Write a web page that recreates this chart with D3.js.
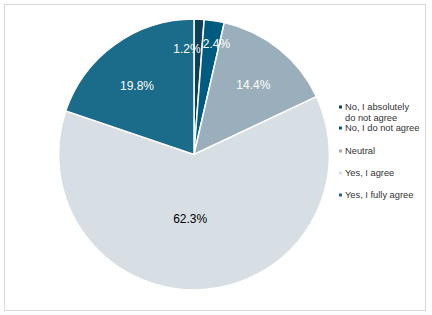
<!DOCTYPE html>
<html><head><meta charset="utf-8">
<script src="https://cdn.jsdelivr.net/npm/d3@7"></script>
<style>body{margin:0;background:#fff}svg{display:block}</style>
</head><body>
<svg id="c" width="432" height="315"></svg>
<script>
const categories = ["No, I absolutely do not agree","No, I do not agree","Neutral","Yes, I agree","Yes, I fully agree"];
const values = [1.2, 2.4, 14.4, 62.3, 19.8];
const legendLines = [["No, I absolutely","do not agree"],["No, I do not agree"],["Neutral"],["Yes, I agree"],["Yes, I fully agree"]];
const colors = ["#0d3f58","#005b80","#9aaebb","#d8dfe4","#1b6b8a"];
const labelColors = ["#fff","#fff","#fff","#000","#fff"];

const svg = d3.select("#c");
svg.append("rect").attr("x",4.5).attr("y",4.5).attr("width",421).attr("height",306)
  .attr("fill","#fff").attr("stroke","#d9d9d9").attr("stroke-width",1);

const cx = 194, cy = 154.5, R = 135.5;
const g = svg.append("g").attr("transform",`translate(${cx},${cy})`);
const pie = d3.pie().sort(null).value(d=>d);
const arcs = pie(values);
const arc = d3.arc().innerRadius(0).outerRadius(R);
g.selectAll("path").data(arcs).enter().append("path")
  .attr("d",arc).attr("fill",(d,i)=>colors[i]).attr("stroke","#fff").attr("stroke-width",1.5);

// label placement radii (fraction of R) and small nudges
const lr = [0.78, 0.83, 0.675, 0.477, 0.657];
const nudge = [[-11,0],[5.6,0.7],[2,1.7],[-7.5,0],[-5.2,3.9]];
g.selectAll("text.lbl").data(arcs).enter().append("text")
  .attr("class","lbl")
  .attr("transform",(d,i)=>{
    const a = (d.startAngle+d.endAngle)/2; const r = R*lr[i];
    return `translate(${Math.sin(a)*r+nudge[i][0]},${-Math.cos(a)*r+nudge[i][1]})`;
  })
  .attr("text-anchor","middle").attr("dy","0.36em")
  .style("font-family","Arial, 'Liberation Sans', sans-serif").style("font-size","12px")
  .attr("fill",(d,i)=>labelColors[i])
  .text(d=>d.data.toFixed(1)+"%");

// legend
const ly = [107, 128, 151, 173, 195];
const lg = svg.append("g");
legendLines.forEach((lines,i)=>{
  lg.append("rect").attr("x",339).attr("y",ly[i]-1.5).attr("width",3).attr("height",3).attr("fill",colors[i]);
  lines.forEach((t,j)=>{
    lg.append("text").attr("x",345).attr("y",ly[i]+j*10.5).attr("dy","0.35em")
      .style("font-family","Arial, 'Liberation Sans', sans-serif").style("font-size","9.3px")
      .attr("fill","#333").text(t);
  });
});
</script>
</body></html>
